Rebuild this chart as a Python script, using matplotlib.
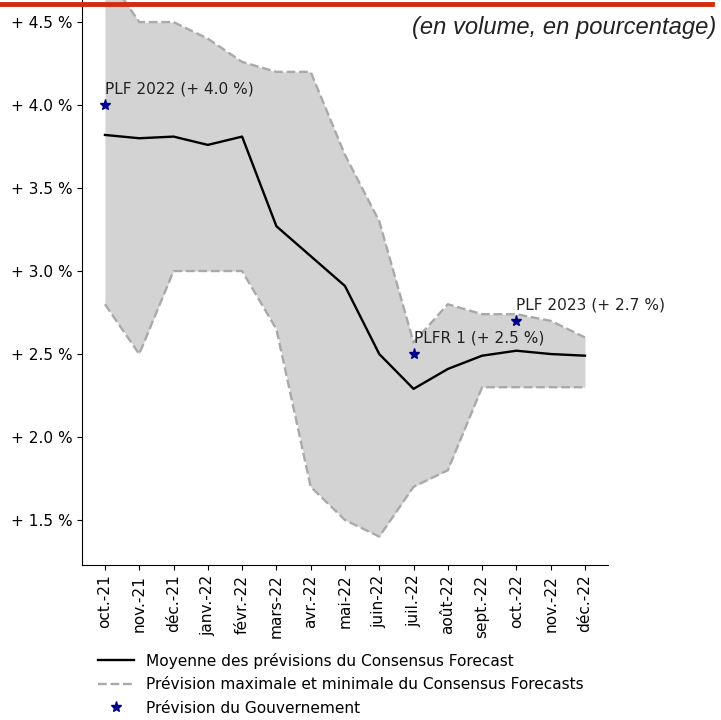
import numpy as np
import matplotlib.pyplot as plt
from matplotlib.lines import Line2D

# donnees
mois = ["oct.-21", "nov.-21", "déc.-21", "janv.-22", "févr.-22", "mars-22", "avr.-22",
        "mai-22", "juin-22", "juil.-22", "août-22", "sept.-22", "oct.-22", "nov.-22", "déc.-22"]
moyenne = [3.82, 3.80, 3.81, 3.76, 3.81, 3.27, 3.09, 2.91, 2.50, 2.29, 2.41, 2.49, 2.52, 2.50, 2.49]
maxi = [4.80, 4.50, 4.50, 4.40, 4.26, 4.20, 4.20, 3.70, 3.30, 2.57, 2.80, 2.74, 2.74, 2.70, 2.60]
mini = [2.80, 2.50, 3.00, 3.00, 3.00, 2.65, 1.70, 1.50, 1.40, 1.70, 1.80, 2.30, 2.30, 2.30, 2.30]

gouv_idx = [0, 9, 12]
gouv_val = [4.0, 2.5, 2.7]
gouv_txt = ["PLF 2022 (+ 4.0 %)", "PLFR 1 (+ 2.5 %)", "PLF 2023 (+ 2.7 %)"]

yticks = [1.5, 2.0, 2.5, 3.0, 3.5, 4.0, 4.5]

fs = 11.1
fig = plt.figure(figsize=(7.21, 7.2), dpi=100)
ax = fig.add_axes([0.1137, 0.2153, 0.7295, 0.7847])

x = np.arange(len(mois))
ax.fill_between(x, mini, maxi, color="lightgray", lw=0)
ax.plot(x, moyenne, color="black", lw=1.7,
        label="Moyenne des prévisions du Consensus Forecast")
ax.plot(x, maxi, color="darkgray", ls="--", lw=1.7,
        label="Prévision maximale et minimale du Consensus Forecasts")
ax.plot(x, mini, color="darkgray", ls="--", lw=1.7)
ax.plot(gouv_idx, gouv_val, ls="none", marker="*", color="darkblue", ms=8,
        label="Prévision du Gouvernement")

for i, v, t in zip(gouv_idx, gouv_val, gouv_txt):
    ax.annotate(t, (i, v), xytext=(0, 6), textcoords="offset points",
                ha="left", va="bottom", fontsize=fs, color="#222222")

ax.set_xlim(-0.67, len(mois) - 1 + 0.67)
ax.set_ylim(1.229, 4.633)
ax.set_xticks(x)
ax.set_xticklabels(mois, rotation=90, fontsize=fs)
ax.set_yticks(yticks)
ax.set_yticklabels(["+ %.1f %%" % v for v in yticks], fontsize=fs)
ax.spines["top"].set_visible(False)
ax.spines["right"].set_visible(False)

ax.legend(loc="upper left", bbox_to_anchor=(0.117, 0.1125), bbox_transform=fig.transFigure,
          frameon=False, fontsize=fs, handlelength=2.3, labelspacing=0.55)

fig.text(0.993, 0.962, "(en volume, en pourcentage)", ha="right", va="center",
         fontsize=17.1, style="italic", family="Liberation Sans", color="#222222")
fig.add_artist(Line2D([0, 0.988], [0.994, 0.994], transform=fig.transFigure,
                      color="#d22b10", lw=3.5))

fig.savefig("out.png")
